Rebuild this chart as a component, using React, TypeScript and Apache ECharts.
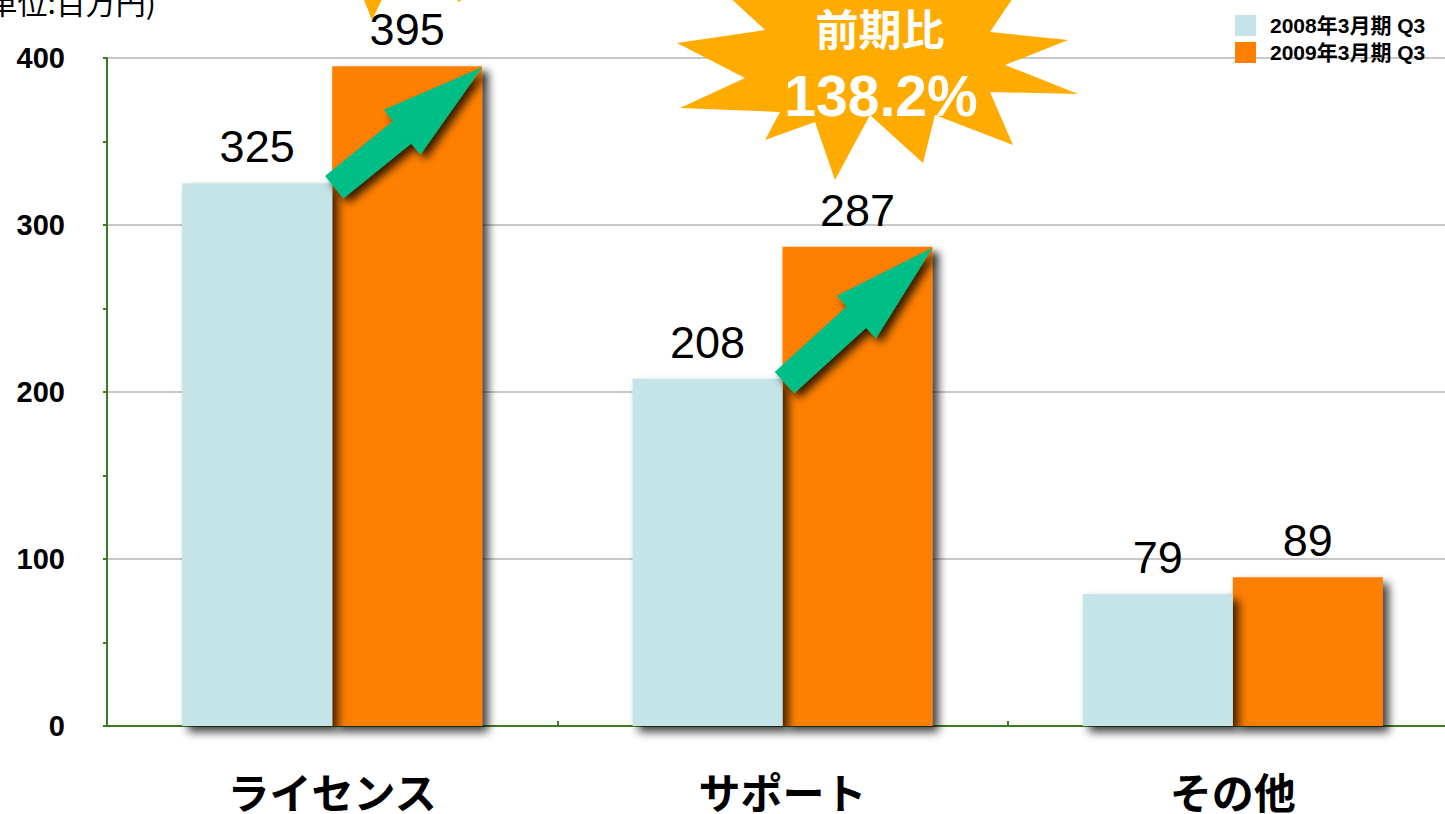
import React, { useEffect, useRef } from "react";
import * as echarts from "echarts";

const categories = ["ライセンス", "サポート", "その他"];
const seriesNames = ["2008年3月期 Q3", "2009年3月期 Q3"];
const fy2008 = [325, 208, 79];
const fy2009 = [395, 287, 89];
const yMax = 400;
const yInterval = 100;
const arrowCategories = [0, 1];
const unitText = "(単位:百万円)";
const burstTitle = "前期比";
const burstValue = "138.2%";

const COLOR_2008 = "#c5e4e7";
const COLOR_2009 = "#ff7f00";
const COLOR_ARROW = "#00bf86";
const COLOR_STAR = "#ffab00";
const AXIS_GREEN = "#3e7a1f";
const LATIN = "'Liberation Sans', Arial, 'Noto Sans CJK JP', sans-serif";
const CJK = "'Noto Sans CJK JP', 'Liberation Sans', sans-serif";

const starPoints: number[][] = [
  [700, -30], [765, 30], [677, 43], [745, 78], [680, 108], [780, 112],
  [765, 140], [815, 122], [835, 180], [870, 115], [923, 163], [935, 115],
  [1013, 145], [990, 92], [1078, 94], [1005, 65], [1068, 40], [990, 32],
  [1025, -20], [950, 0], [930, -40], [880, -5], [830, -40], [800, 0],
];

function arrowPolygon(tail: number[], tip: number[]) {
  const dx = tip[0] - tail[0];
  const dy = tip[1] - tail[1];
  const L = Math.sqrt(dx * dx + dy * dy);
  const ux = dx / L, uy = dy / L;
  const nx = -uy, ny = ux;
  const w = 14.5, H = 29, h = 103;
  const bx = tip[0] - ux * h, by = tip[1] - uy * h;
  return [
    [tail[0] + nx * w, tail[1] + ny * w],
    [bx + nx * w, by + ny * w],
    [bx + nx * H, by + ny * H],
    [tip[0], tip[1]],
    [bx - nx * H, by - ny * H],
    [bx - nx * w, by - ny * w],
    [tail[0] - nx * w, tail[1] - ny * w],
  ];
}

export default function App() {
  const ref = useRef<HTMLDivElement>(null);
  useEffect(() => {
    if (!ref.current) return;
    const chart = echarts.init(ref.current, null, { renderer: "svg" });
    const barShadow = {
      shadowBlur: 10,
      shadowColor: "rgba(0,0,0,0.75)",
      shadowOffsetX: 6,
      shadowOffsetY: 6,
    };
    const label = {
      show: true,
      position: "top",
      distance: 14,
      color: "#000",
      fontSize: 45,
      fontFamily: LATIN,
    };
    chart.setOption({
      animation: false,
      grid: { left: 107, right: 2, top: 58, bottom: 88 },
      legend: {
        orient: "vertical",
        left: 1230,
        top: 10,
        itemWidth: 21,
        itemHeight: 21,
        itemGap: 6,
        icon: "rect",
        selectedMode: false,
        data: seriesNames,
        textStyle: {
          fontSize: 21,
          fontWeight: "bold",
          color: "#000",
          fontFamily: LATIN,
          padding: [0, 0, 0, 9],
        },
      },
      xAxis: {
        type: "category",
        data: categories,
        axisLine: { lineStyle: { color: AXIS_GREEN, width: 2 } },
        axisTick: { show: true, inside: true, length: 5, lineStyle: { color: AXIS_GREEN, width: 2 } },
        axisLabel: {
          margin: 43,
          fontSize: 42,
          lineHeight: 42,
          fontWeight: "bold",
          color: "#000",
          fontFamily: CJK,
        },
      },
      yAxis: {
        type: "value",
        min: 0,
        max: yMax,
        interval: yInterval,
        axisLine: { show: true, lineStyle: { color: AXIS_GREEN, width: 2 } },
        axisTick: { show: true, length: 4, lineStyle: { color: AXIS_GREEN, width: 2 } },
        minorTick: { show: true, splitNumber: 2, length: 4, lineStyle: { color: AXIS_GREEN, width: 2 } },
        splitLine: { show: true, lineStyle: { color: "#c8c8c8", width: 2 } },
        axisLabel: {
          margin: 42,
          fontSize: 29,
          fontWeight: "bold",
          color: "#000",
          fontFamily: LATIN,
        },
      },
      series: [
        {
          name: seriesNames[0],
          type: "bar",
          data: fy2008,
          barWidth: 150,
          barGap: "0%",
          z: 4,
          clip: false,
          itemStyle: { color: COLOR_2008, ...barShadow },
          label,
          emphasis: { disabled: true },
        },
        {
          name: seriesNames[1],
          type: "bar",
          data: fy2009,
          barWidth: 150,
          barGap: "0%",
          z: 3,
          clip: false,
          itemStyle: { color: COLOR_2009, ...barShadow },
          label,
          emphasis: { disabled: true },
        },
      ],
    });

    const arrows = arrowCategories.map((i) => {
      const top09 = chart.convertToPixel({ gridIndex: 0 }, [i, fy2009[i]]) as number[];
      const top08 = chart.convertToPixel({ gridIndex: 0 }, [i, fy2008[i]]) as number[];
      const tip = [top09[0] + 150, top09[1] + 1];
      const tail = [top08[0] + 2, top08[1] + 4];
      return {
        type: "polygon",
        z: 100,
        silent: true,
        shape: { points: arrowPolygon(tail, tip) },
        style: {
          fill: COLOR_ARROW,
          shadowBlur: 8,
          shadowColor: "rgba(0,0,0,0.8)",
          shadowOffsetX: 5,
          shadowOffsetY: 5,
        },
      };
    });

    chart.setOption({
      graphic: [
        ...arrows,
        {
          type: "polygon",
          z: 100,
          silent: true,
          shape: { points: [[362, -5], [372, 20], [384, -5]] },
          style: { fill: COLOR_STAR },
        },
        {
          type: "polygon",
          z: 100,
          silent: true,
          shape: { points: [[454, -3], [459, 2], [465, -3]] },
          style: { fill: COLOR_STAR },
        },
        {
          type: "polygon",
          z: 100,
          silent: true,
          shape: { points: starPoints },
          style: { fill: COLOR_STAR },
        },
        {
          type: "text",
          z: 101,
          silent: true,
          x: 880,
          y: 27,
          style: {
            text: burstTitle,
            fill: "#fff",
            font: `bold 43px ${CJK}`,
            align: "center",
            verticalAlign: "middle",
          },
        },
        {
          type: "text",
          z: 101,
          silent: true,
          x: 881,
          y: 96,
          style: {
            text: burstValue,
            fill: "#fff",
            font: `bold 57px ${LATIN}`,
            align: "center",
            verticalAlign: "middle",
          },
        },
        {
          type: "text",
          z: 101,
          silent: true,
          x: 156,
          y: 1,
          style: {
            text: unitText,
            fill: "#000",
            font: `30px ${CJK}`,
            align: "right",
            verticalAlign: "middle",
          },
        },
      ],
    });

    return () => chart.dispose();
  }, []);

  return (
    <div style={{ position: "fixed", left: 0, top: 0, width: 1445, height: 814, overflow: "hidden", background: "#fff" }}>
      <div ref={ref} style={{ width: 1460, height: 814 }} />
    </div>
  );
}
